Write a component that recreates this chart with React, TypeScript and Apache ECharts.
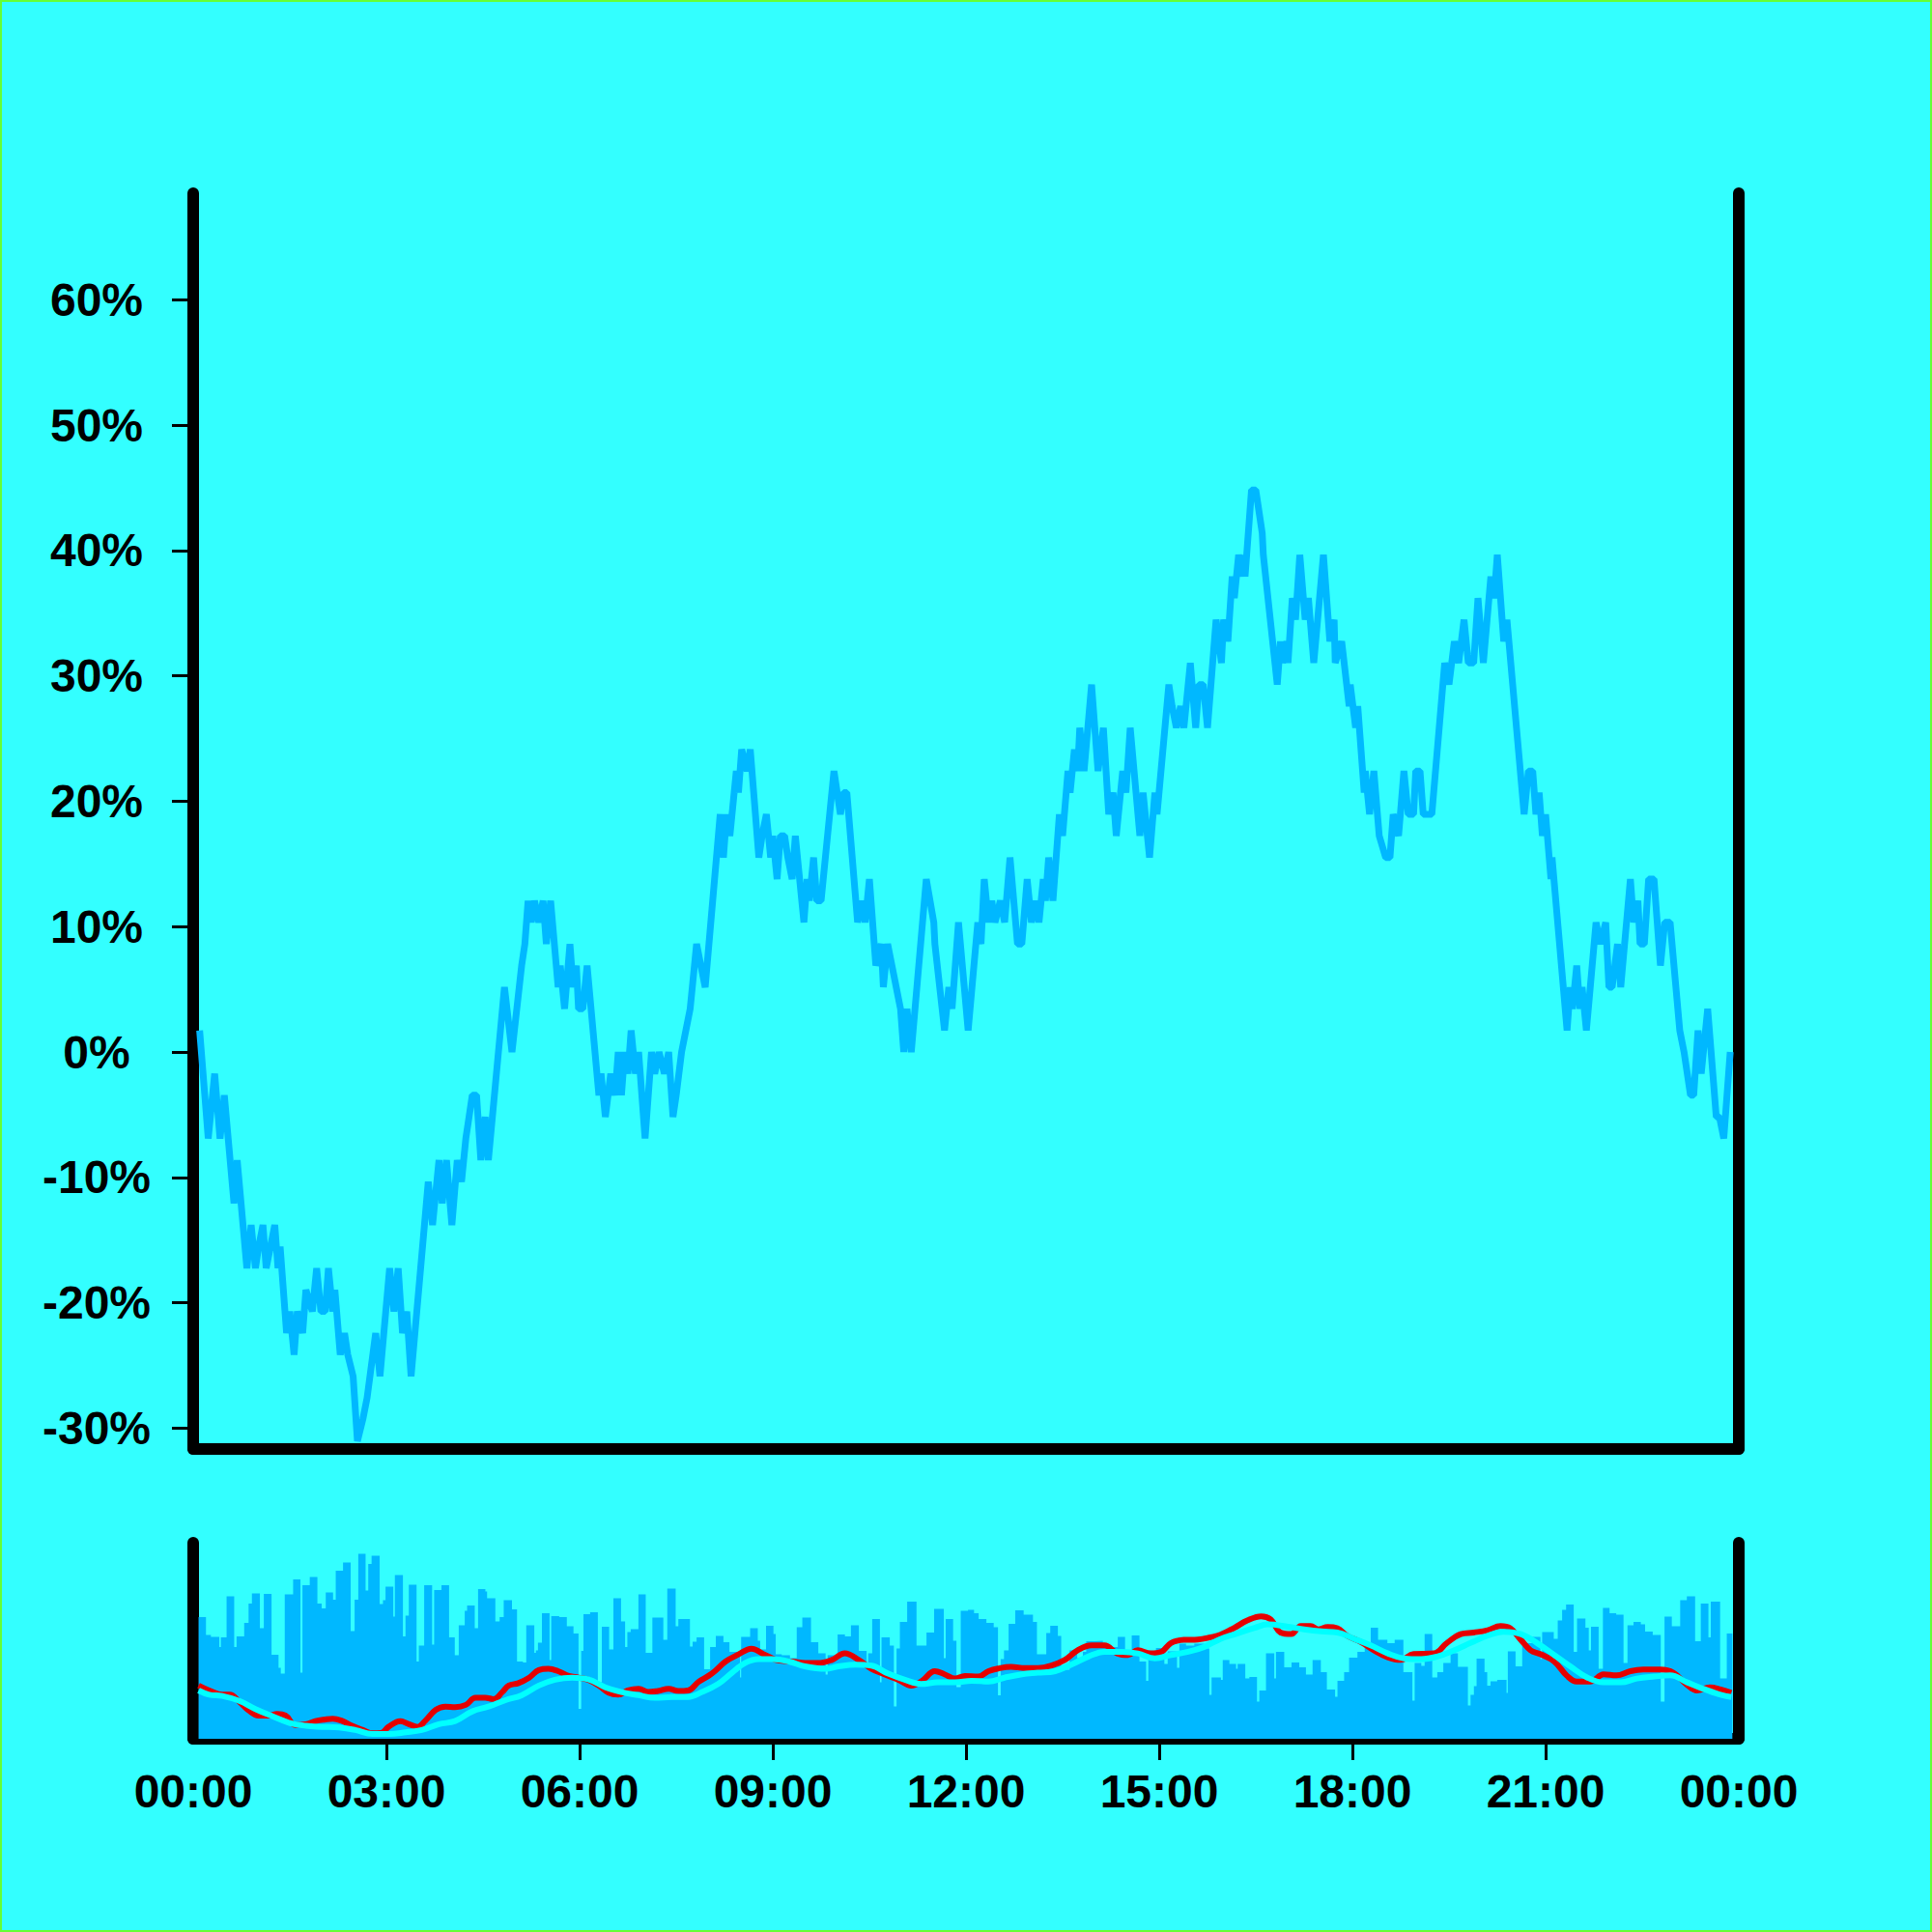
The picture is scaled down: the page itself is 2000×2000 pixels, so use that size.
import React, { useEffect, useRef } from "react";
import * as echarts from "echarts";

// price in ticks (0.01), base price 0.58 = 0%
const BASE_PRICE = 58;
const PRICE_POINTS: [number, number][] = [
  [6,59],[14,54],[20,57],[25,54],[29,56],[38,51],[41,53],[50,48],[54,50],[58,48],[61,49],[65,50],[68,48],[72,49],[76,50],[79,48],[81,49],
  [87,45],[90,46],[94,44],[97,46],[102,45],[105,47],[111,46],[115,48],[119,46],[123,46],[126,48],[130,46],[132,47],[137,44],[141,45],[144,44],
  [149,43],[153,40],[158,41],[162,42],[170,45],[174,43],[183,48],[187,46],[191,48],[195,45],[199,46],[203,43],[219,52],[223,50],[229,53],
  [232,51],[236,53],[241,50],[246,53],[250,52],[254,54],[257,55],[260,56],[264,56],[268,53],[272,55],[275,53],[290,61],[297,58],[306,62],
  [309,63],[312,65],[315,64],[318,65],[322,64],[326,65],[329,63],[333,65],[340,61],[342,62],[346,60],[351,63],[354,61],[357,62],[359,60],
  [363,60],[367,62],[378,56],[380,57],[384,55],[389,57],[393,56],[396,58],[399,56],[402,58],[405,57],[408,59],[412,57],[415,58],[421,54],
  [427,58],[430,57],[434,58],[439,57],[443,58],[447,55],[450,56],[455,58],[459,59],[463,60],[469,63],[473,62],[477,61],[491,69],[494,67],
  [497,69],[500,68],[506,71],[508,70],[511,72],[516,71],[519,72],[527,67],[530,68],[534,69],[538,67],[540,68],[544,66],[547,68],[551,68],
  [554,67],[558,66],[561,68],[569,64],[572,66],[574,65],[578,67],[581,65],[585,65],[597,71],[600,70],[603,69],[606,70],[609,70],[619,64],
  [623,65],[626,64],[630,66],[636,62],[641,63],[643,61],[647,63],[651,62],[655,61],[659,60],[662,58],[665,60],[669,58],[683,66],[690,64],
  [691,63],[700,59],[704,61],[707,60],[713,64],[722,59],[731,64],[734,63],[737,66],[741,64],[744,65],[747,64],[752,65],[756,64],[761,67],
  [768,63],[772,63],[777,66],[781,64],[785,65],[788,64],[792,66],[794,65],[797,67],[801,65],[807,69],[810,68],[815,71],[817,70],[821,72],
  [824,71],[826,73],[830,71],[837,75],[843,71],[848,73],[853,69],[857,70],[860,68],[866,71],[869,70],[873,73],[882,68],[885,70],[891,67],
  [896,70],[898,69],[909,75],[912,74],[916,73],[920,74],[923,73],[929,76],[934,73],[937,75],[941,75],[945,73],[953,78],[958,76],[960,78],
  [964,77],[968,80],[970,79],[974,81],[977,80],[979,81],[980,80],[986,84],[990,84],[993,83],[996,82],[997,81],[1010,75],[1013,77],[1015,76],
  [1019,77],[1020,76],[1024,79],[1027,78],[1031,81],[1036,78],[1039,79],[1044,76],[1053,81],[1059,77],[1063,78],[1064,76],[1070,77],
  [1077,74],[1078,75],[1083,73],[1085,74],[1091,70],[1092,71],[1096,69],[1100,71],[1105,68],[1111,67],[1115,67],[1118,69],[1123,68],
  [1128,71],[1132,69],[1137,69],[1139,71],[1143,71],[1146,69],[1154,69],[1166,76],[1170,75],[1175,77],[1179,76],[1184,78],[1188,76],
  [1193,76],[1197,79],[1202,76],[1209,80],[1212,79],[1215,81],[1221,77],[1224,78],[1240,69],[1244,71],[1248,71],[1251,69],[1254,70],
  [1257,68],[1260,69],[1265,66],[1266,67],[1280,59],[1283,61],[1285,60],[1289,62],[1292,60],[1294,61],[1298,59],[1307,64],[1311,63],
  [1316,64],[1319,61],[1322,61],[1327,63],[1330,61],[1339,66],[1342,64],[1346,65],[1348,63],[1352,63],[1356,66],[1361,66],[1367,62],
  [1371,64],[1376,64],[1385,59],[1389,58],[1395,56],[1398,56],[1402,59],[1405,57],[1411,60],[1419,55],[1422,55],[1426,54],[1432,58]
];

// volume: [segment start minute, volume]
const VOLUME: [number, number][] = [
  [5,63],[11.9,53.8],[16.5,52.8],[24.3,47.5],[25.8,52.5],[31.1,73.7],[38.2,47.5],[40.4,53],[47.5,60],[51.6,70],[54.7,75.3],[62.1,57.2],
  [65.8,75],[73,43.5],[79.5,36.7],[81.6,33.7],[85.3,74.7],[93.1,82.5],[99.9,34.2],[101.8,79.5],[108.6,83.8],[115.7,70],[119.7,67.5],
  [123.5,75.8],[130.3,72],[132.8,87],[139.6,91.3],[146.7,55.8],[150.4,72],[153.8,95.8],[160.6,76.7],[163.1,90.5],[166.2,94.7],[173.7,69.7],
  [176.8,71.7],[179.2,78.8],[186.4,63.3],[187.9,84.8],[195.4,53],[197.8,63.8],[200.9,79.7],[208.1,40],[210.2,48.2],[215.2,79.5],
  [222.6,48.7],[224.5,77],[231.3,79.5],[238.4,52.5],[243.7,43.3],[247.4,58.8],[253,66.2],[255.2,69],[262.3,57.2],[265.4,77.5],[272.2,76.3],
  [273.8,72.8],[281.5,60.8],[285.5,63],[289.3,71.7],[297,67],[301.7,40],[307.2,39.5],[310.3,58.8],[317.8,44.5],[319.3,45.8],[321.2,49.8],
  [324.9,65],[332,40.8],[333.6,63.5],[341,63],[348.1,58.3],[354.3,54.5],[359,15.5],[361.5,45.5],[363.6,64.5],[369.8,65.5],[377,29.2],
  [380.7,58],[387.5,46.3],[391.5,72.8],[398.6,60.8],[402.4,47.5],[404.5,55.3],[407.6,56.7],[414.8,74.8],[421.6,44.5],[427.8,62.8],[438,51.2],
  [441.7,77.8],[449.5,58.3],[452,62],[462.8,47.8],[465.3,50.3],[469,52.5],[476,36],[481.6,47.5],[486.9,53.2],[494,50],[499.6,45],
  [509.5,31.7],[510.5,52.8],[518.9,57.3],[526,50.8],[528.2,46.2],[533.7,58.5],[540.6,54.2],[542.7,43.8],[548.3,43.2],[556,41.7],[562.3,57.8],
  [567.5,62.7],[575.6,50],[582.4,44.2],[589.2,33.3],[591.1,43.3],[600.4,54],[607.2,53],[612.8,58.7],[620.2,45.5],[627.4,39.2],[628.9,44.2],
  [632.6,62],[639.8,29.2],[641.3,52.5],[649,48.3],[652.8,16.7],[655.3,46.7],[658.4,60.5],[665.2,71],[673.9,48.3],[683.2,55],[690.3,67.3],
  [699.3,41.7],[701.1,62],[708,50.8],[711.1,26.7],[715.1,66.3],[721.9,66.7],[727.5,65],[731.8,62],[739,60],[745.8,57.8],[749.8,22.5],
  [752.3,41.2],[755.4,45.8],[759.7,59.5],[765.9,66.5],[773.7,64.2],[782.4,60.5],[786.1,43.8],[794.8,54.7],[798.5,58.5],[805.6,53.3],
  [808.7,35.8],[816.5,45.7],[823.6,41.7],[828.9,45],[832,50.5],[839.7,50.8],[847.5,47.5],[861.4,52.8],[868.2,42.5],[874.4,53.5],[881.6,40],
  [887.8,30],[889.9,45],[897,47],[904.8,38.8],[907.9,45.3],[916.6,36.7],[918.8,49.2],[925,48.3],[932.7,49.2],[942,46.7],[946.7,22.8],
  [948.8,31.8],[957.5,30.5],[959.2,40.8],[965.4,38.8],[971.6,36.2],[973.1,38.8],[980.2,31.2],[984,32],[991.1,19.2],[993.3,25],[999.5,44.3],
  [1007.2,31.2],[1008.8,45],[1016.5,37],[1023.3,39.5],[1030.5,37],[1036.7,33.3],[1042.9,40.8],[1050.6,34.5],[1056.2,25.5],[1063.9,21.7],
  [1066.1,30],[1072.3,34.5],[1076.9,42],[1084.7,45],[1091.5,49.5],[1097.1,57.5],[1103.9,51.2],[1112.6,49.5],[1119.4,51.2],[1127.5,34.5],
  [1135.9,19.7],[1138,39.2],[1144.2,37.8],[1147.3,54.2],[1154.4,31.7],[1159.1,34.5],[1164.7,39.2],[1171.5,44.2],[1178.3,37.2],[1187.6,17.2],
  [1190.1,22.8],[1193.2,27.2],[1195.7,41.5],[1203.1,34.5],[1205.6,27.5],[1208.7,29.7],[1214.9,30.5],[1223.6,23.8],[1224.8,45.3],[1232,37.5],
  [1238.2,49.5],[1247.5,52.8],[1255.2,41.2],[1256.8,55.3],[1267.6,51.7],[1271.3,61.2],[1275.4,66.7],[1279.1,69.5],[1286.2,45],[1289.3,62.2],
  [1297.1,57.5],[1300.2,45.8],[1302.3,58],[1309.4,36.3],[1313.4,67.8],[1319.6,65],[1325.8,64.2],[1332.6,39.2],[1336.3,58.7],[1341.9,60.5],
  [1348.7,59.2],[1352.7,55.5],[1359.8,53.8],[1367.3,19.2],[1370.8,63.3],[1377.6,58.3],[1385.4,71.7],[1391.6,73.8],[1399.3,50.5],[1404.6,70],
  [1411.7,52.5],[1413.9,71],[1422.6,31.2],[1428.8,54.5],[1434,54.5]
];

// short moving average (percent)
const MA_SHORT: [number, number][] = [
  [5,-1.7],[15,-4.5],[27,-6.9],[34,-6.9],[43,-10.9],[52,-16],[61,-18.8],[71,-18.8],[78,-17.9],[86,-18.8],[95,-24.1],[105,-23.7],[114,-21.9],
  [123,-21],[130,-20.6],[139,-21.9],[148,-24.6],[158,-27],[167,-28.9],[175,-28.7],[182,-25.2],[193,-21.9],[201,-23.7],[209,-25.2],[216,-21.9],
  [226,-15.5],[235,-13.7],[244,-14],[254,-12.7],[263,-8.7],[272,-8.7],[280,-9.4],[288,-5.4],[294,-1.7],[303,-0.3],[313,2.8],[322,7.1],
  [331,7.8],[340,6.5],[350,3.8],[359,2.8],[368,1.6],[378,-1.7],[387,-5.8],[396,-6.9],[405,-4.5],[415,-3.6],[424,-5.4],[433,-4.8],[443,-3.6],
  [452,-4.8],[461,-4.5],[471,0.5],[480,3.8],[486,6.5],[496,12],[508,16],[520,19.3],[533,15.7],[545,12.6],[558,12],[570,11.1],[582,11.1],
  [595,12.9],[607,16.6],[620,12.9],[632,7.8],[644,4.7],[657,1.6],[669,-1.7],[679,1],[691,6.5],[700,4.7],[710,2.3],[719,3.8],[731,3.4],
  [741,6.5],[750,8],[762,8.9],[775,8.3],[787,8.3],[799,9.6],[812,12.9],[824,18.4],[837,21.2],[849,21.2],[861,16.6],[871,15.7],[880,18.4],
  [892,16.6],[902,17.5],[911,22.5],[923,24.3],[936,24.5],[948,25.8],[957,27.2],[970,31.2],[982,35.3],[995,37.7],[1004,35.9],[1013,28.5],
  [1023,27.6],[1032,32.2],[1041,32.2],[1048,30.3],[1057,31.6],[1066,30.9],[1075,26.7],[1088,23],[1100,18.4],[1113,14.4],[1125,12.9],
  [1137,16.2],[1156,16.6],[1168,22.5],[1181,27.6],[1193,28.5],[1206,29.8],[1218,32.2],[1227,30.9],[1237,24.3],[1246,18.4],[1255,16.2],
  [1268,12],[1280,3.8],[1289,0.6],[1302,0.6],[1314,4.7],[1326,4.1],[1339,6.5],[1351,7.4],[1367,7.4],[1379,5.6],[1392,-1.4],[1401,-4.5],
  [1413,-2.7],[1423,-3.9],[1433,-5.8]
];

// long moving average (percent)
const MA_LONG: [number, number][] = [
  [5,-4.5],[15,-6.9],[27,-7.6],[43,-10.4],[58,-15.1],[74,-19.2],[89,-22.8],[105,-24.6],[120,-25.2],[136,-25.6],[151,-27],[167,-29.2],
  [182,-29.2],[198,-28.3],[213,-27],[229,-23.7],[244,-21.9],[260,-16.4],[275,-13.7],[291,-10],[306,-7.2],[322,-1.7],[337,1.6],[353,2.8],
  [368,1.9],[384,-2.7],[399,-5.4],[415,-7.2],[430,-8.7],[446,-8.2],[461,-8.2],[474,-5.4],[489,-0.8],[502,5.6],[514,11.1],[527,13.3],
  [539,13.3],[555,12],[570,9.2],[589,7.8],[601,9.2],[617,10.2],[632,9.6],[647,5.2],[663,1.6],[678,-0.8],[694,0.1],[710,0.1],[725,1],
  [741,0.6],[756,2.8],[772,4.7],[787,5.6],[803,6.5],[818,10.2],[834,14.8],[849,17.5],[865,17.5],[880,16.6],[896,13.8],[911,15.7],[927,17.5],
  [942,20.3],[957,24.8],[973,28],[989,31.2],[1001,33.1],[1020,31.8],[1035,30.3],[1051,29.1],[1066,28.5],[1082,24.8],[1097,21.2],[1113,16.6],
  [1128,13.8],[1144,13.3],[1159,14.8],[1175,18.4],[1190,22.5],[1206,26.7],[1221,28.9],[1237,27.6],[1252,22.5],[1268,15.7],[1283,9.2],
  [1299,2.8],[1314,0.1],[1330,0.1],[1345,2.3],[1361,3.4],[1376,4.1],[1392,0.1],[1407,-3.6],[1423,-6.9],[1433,-8.2]
];

const Y_TICKS = [-30, -20, -10, 0, 10, 20, 30, 40, 50, 60];
const X_LABELS = [0, 180, 360, 540, 720, 900, 1080, 1260, 1440];
const X_TICKS = [180, 360, 540, 720, 900, 1080, 1260];

const BG = "#33ffff";
const BLUE = "#00b8ff";
const FONT = "'Liberation Sans', Arial, Helvetica, sans-serif";

const axisLineStyle = { color: "#000", width: 12, cap: "round" as const };

function fmtTime(v: number) {
  const m = ((Math.round(v) % 1440) + 1440) % 1440;
  const h = Math.floor(m / 60);
  const mm = m % 60;
  return `${h < 10 ? "0" : ""}${h}:${mm < 10 ? "0" : ""}${mm}`;
}

export default function App() {
  const ref = useRef<HTMLDivElement>(null);
  useEffect(() => {
    document.body.style.margin = "0";
    document.body.style.background = BG;
    if (!ref.current) return;
    const chart = echarts.init(ref.current, undefined, { renderer: "svg" });
    const mainData = PRICE_POINTS.map(([t, p]) => [t, ((p - BASE_PRICE) / BASE_PRICE) * 100]);
    chart.setOption({
      animation: false,
      backgroundColor: BG,
      graphic: [
        {
          type: "rect",
          shape: { x: 1, y: 1, width: 1998, height: 1998 },
          style: { fill: "none", stroke: "#66ff33", lineWidth: 2 },
          silent: true,
        },
      ],
      grid: [
        { left: 200, right: 200, top: 200, height: 1300 },
        { left: 200, right: 200, top: 1597, height: 203 },
      ],
      xAxis: [
        {
          type: "value", gridIndex: 0, min: 0, max: 1440,
          axisLine: { show: true, onZero: false, lineStyle: axisLineStyle },
          axisTick: { show: false }, axisLabel: { show: false }, splitLine: { show: false },
        },
        {
          type: "value", gridIndex: 1, min: 0, max: 1440,
          axisLine: { show: true, onZero: false, lineStyle: axisLineStyle },
          axisTick: { show: true, customValues: X_TICKS, length: 22, lineStyle: { color: "#000", width: 3 } },
          axisLabel: {
            show: true, customValues: X_LABELS, formatter: (v: number) => fmtTime(v),
            margin: 30, color: "#000", fontSize: 48, fontWeight: "bold", fontFamily: FONT,
          },
          splitLine: { show: false },
        },
      ],
      yAxis: [
        {
          type: "value", gridIndex: 0, position: "left", min: -31.66, max: 68.5,
          axisLine: { show: true, onZero: false, lineStyle: axisLineStyle },
          axisTick: { show: true, customValues: Y_TICKS, length: 22, lineStyle: { color: "#000", width: 3 } },
          axisLabel: {
            show: true, customValues: Y_TICKS, formatter: (v: number) => `${v}%`,
            align: "center", margin: 100, color: "#000", fontSize: 48, fontWeight: "bold", fontFamily: FONT,
          },
          splitLine: { show: false },
        },
        {
          type: "value", gridIndex: 0, position: "right", min: -31.66, max: 68.5,
          axisLine: { show: true, onZero: false, lineStyle: axisLineStyle },
          axisTick: { show: false }, axisLabel: { show: false }, splitLine: { show: false },
        },
        {
          type: "value", gridIndex: 1, position: "left", min: 0, max: 101.5,
          axisLine: { show: true, onZero: false, lineStyle: axisLineStyle },
          axisTick: { show: false }, axisLabel: { show: false }, splitLine: { show: false },
        },
        {
          type: "value", gridIndex: 1, position: "right", min: -32, max: 79.6,
          axisLine: { show: true, onZero: false, lineStyle: axisLineStyle },
          axisTick: { show: false }, axisLabel: { show: false }, splitLine: { show: false },
        },
      ],
      series: [
        {
          type: "line", xAxisIndex: 0, yAxisIndex: 0, data: mainData, symbol: "none",
          lineStyle: { color: BLUE, width: 7, join: "bevel" }, z: 2,
        },
        {
          type: "line", xAxisIndex: 1, yAxisIndex: 2, data: VOLUME, step: "end", symbol: "none",
          lineStyle: { width: 0, color: BLUE }, areaStyle: { color: BLUE, opacity: 1 }, z: 1,
        },
        {
          type: "line", xAxisIndex: 1, yAxisIndex: 3, data: MA_SHORT, smooth: 0.4, symbol: "none",
          lineStyle: { color: "#e60000", width: 6 }, z: 3,
        },
        {
          type: "line", xAxisIndex: 1, yAxisIndex: 3, data: MA_LONG, smooth: 0.4, symbol: "none",
          lineStyle: { color: "#00ffff", width: 6 }, z: 4,
        },
      ],
    });
    return () => chart.dispose();
  }, []);
  return <div ref={ref} style={{ width: 2000, height: 2000 }} />;
}
